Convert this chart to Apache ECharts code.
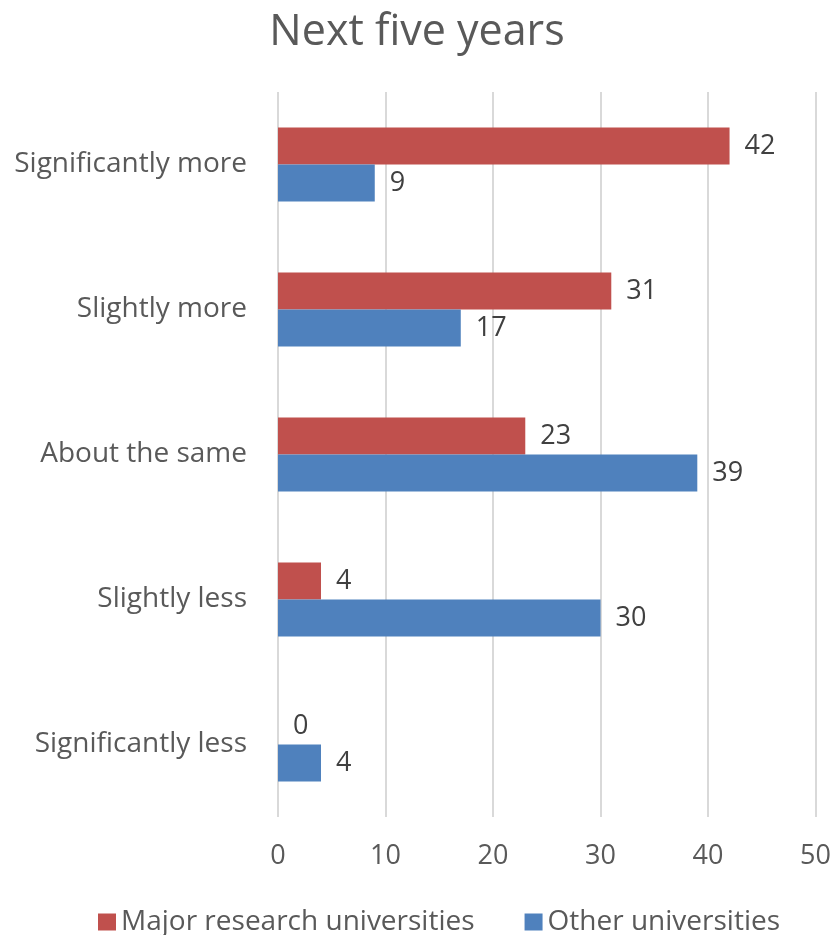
<!DOCTYPE html>
<html>
<head>
<meta charset="utf-8">
<script src="https://cdn.jsdelivr.net/npm/echarts@6/dist/echarts.min.js"></script>
<style>
  html, body { margin: 0; padding: 0; background: #fff; }
  #chart { width: 834px; height: 935px; }
</style>
</head>
<body>
<div id="chart"></div>
<script>
// Response categories, listed top to bottom
const categories = ['Significantly more', 'Slightly more', 'About the same', 'Slightly less', 'Significantly less'];
// Share of respondents per group
const majorResearch = [42, 31, 23, 4, 0];
const otherUniversities = [9, 17, 39, 30, 4];
// Value axis ticks
const xTicks = [0, 10, 20, 30, 40, 50];

const FONT = 'Open Sans';
const chart = echarts.init(document.getElementById('chart'));

const labelStyle = {
  show: true,
  position: 'right',
  distance: 15,
  color: '#404040',
  fontFamily: FONT,
  fontSize: 27
};

chart.setOption({
  animation: false,
  textStyle: { fontFamily: FONT },
  title: {
    text: 'Next five years',
    left: 'center',
    top: 6,
    textStyle: { fontFamily: FONT, fontSize: 43, fontWeight: 'normal', color: '#595959' }
  },
  legend: {
    top: 903,
    left: 93,
    itemWidth: 18,
    itemHeight: 17,
    itemGap: 50,
    itemTextGap: 8,
    icon: 'rect',
    textStyle: { fontFamily: FONT, fontSize: 28, color: '#595959' },
    data: ['Major research universities', 'Other universities']
  },
  grid: { left: 278, right: 18, top: 92, bottom: 118, containLabel: false },
  xAxis: {
    type: 'value',
    min: xTicks[0],
    max: xTicks[xTicks.length - 1],
    interval: 10,
    axisLine: { show: false },
    axisTick: { show: false },
    axisLabel: { fontFamily: FONT, fontSize: 27, color: '#595959', margin: 26 },
    splitLine: { show: true, lineStyle: { color: '#d9d9d9', width: 2 } }
  },
  yAxis: {
    type: 'category',
    data: categories,
    inverse: true,
    axisLine: { show: false },
    axisTick: { show: false },
    axisLabel: { fontFamily: FONT, fontSize: 28, color: '#595959', margin: 31 }
  },
  series: [
    {
      name: 'Major research universities',
      type: 'bar',
      data: majorResearch,
      barWidth: 37,
      barGap: '0%',
      itemStyle: { color: '#C0504D' },
      label: labelStyle
    },
    {
      name: 'Other universities',
      type: 'bar',
      data: otherUniversities,
      barWidth: 37,
      barGap: '0%',
      itemStyle: { color: '#4F81BD' },
      label: labelStyle
    }
  ]
});
</script>
</body>
</html>
